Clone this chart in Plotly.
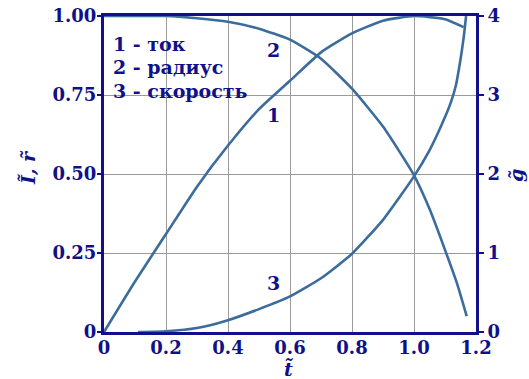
import plotly.graph_objects as go

# Безразмерное время и зависимости тока, радиуса и скорости
t_current = [0, 0.1, 0.2, 0.3, 0.4, 0.5, 0.6, 0.7, 0.8, 0.9, 1.0, 1.1, 1.16]
current = [0, 0.16, 0.31, 0.46, 0.59, 0.705, 0.795, 0.885, 0.945, 0.985, 1.0, 0.99, 0.965]

t_radius = [0, 0.2, 0.3, 0.4, 0.5, 0.6, 0.7, 0.8, 0.9, 1.0, 1.05, 1.1, 1.14, 1.17]
radius = [1.0, 1.0, 0.993, 0.982, 0.96, 0.925, 0.865, 0.77, 0.65, 0.496, 0.39, 0.26, 0.15, 0.05]

t_speed = [0.11, 0.2, 0.3, 0.4, 0.5, 0.6, 0.7, 0.8, 0.9, 1.0, 1.05, 1.075, 1.1, 1.12, 1.135, 1.15, 1.16, 1.168]
speed = [0, 0.01, 0.05, 0.15, 0.29, 0.45, 0.68, 0.99, 1.42, 1.97, 2.3, 2.5, 2.72, 2.92, 3.12, 3.45, 3.72, 4.0]

x_ticks = [0, 0.2, 0.4, 0.6, 0.8, 1.0, 1.2]
x_labels = ["0", "0.2", "0.4", "0.6", "0.8", "1.0", "1.2"]
y_ticks = [0, 0.25, 0.5, 0.75, 1.0]
y_labels = ["0", "0.25", "0.50", "0.75", "1.00"]
g_ticks = [0, 1, 2, 3, 4]
g_labels = ["0", "1", "2", "3", "4"]

legend_lines = ["1 - ток", "2 - радиус", "3 - скорость"]

NAVY = "#10108a"
CURVE = "#3b6c9c"
FONT = "DejaVu Serif"

W, H = 529, 379
ML, MR, MT, MB = 104, 53, 16, 47

fig = go.Figure()
line_style = dict(color=CURVE, width=2.6, shape="spline", smoothing=0.5)
fig.add_trace(go.Scatter(x=t_current, y=current, mode="lines", line=line_style, yaxis="y"))
fig.add_trace(go.Scatter(x=t_radius, y=radius, mode="lines", line=line_style, yaxis="y"))
fig.add_trace(go.Scatter(x=t_speed, y=speed, mode="lines", line=line_style, yaxis="y2"))

tick_font = dict(family=FONT, size=18, color=NAVY, weight="bold")

fig.update_layout(
    width=W, height=H,
    margin=dict(l=ML, r=MR, t=MT, b=MB),
    paper_bgcolor="white", plot_bgcolor="white",
    showlegend=False,
    xaxis=dict(range=[0, 1.2], tickvals=x_ticks, ticktext=x_labels,
               showgrid=True, gridcolor="#9a9a9a", gridwidth=1,
               showline=True, linecolor=NAVY, linewidth=3, mirror=True,
               ticks="", tickfont=tick_font, zeroline=False, automargin=False,
               ticklabelstandoff=-3),
    yaxis=dict(range=[0, 1.0], tickvals=y_ticks, ticktext=y_labels,
               showgrid=True, gridcolor="#9a9a9a", gridwidth=1,
               showline=True, linecolor=NAVY, linewidth=3,
               ticks="outside", ticklen=4, tickcolor=NAVY, tickwidth=1.5,
               tickfont=tick_font, zeroline=False, automargin=False,
               ticklabelstandoff=-3),
    yaxis2=dict(range=[0, 4], tickvals=g_ticks, ticktext=g_labels,
                overlaying="y", side="right", showgrid=False,
                showline=True, linecolor=NAVY, linewidth=3,
                ticks="outside", ticklen=5, tickcolor=NAVY, tickwidth=1.5,
                tickfont=tick_font, zeroline=False, automargin=False),
)

ann_font = dict(family=FONT, size=19, color=NAVY, weight="bold")

# Подписи кривых
for label, tx, ty in [("1", 0.546, 0.686), ("2", 0.546, 0.892), ("3", 0.546, 0.154)]:
    fig.add_annotation(x=tx, y=ty, xref="x", yref="y", text=label, showarrow=False,
                       font=ann_font, xanchor="center", yanchor="middle")

# Пояснения к кривым
for i, line in enumerate(legend_lines):
    fig.add_annotation(x=0.024, y=0.911 - i * 0.0735, xref="x", yref="y", text=line,
                       showarrow=False, font=ann_font, xanchor="left", yanchor="middle")


def px_to_paper(px, py):
    """Пиксели страницы -> доли области построения."""
    return (px - ML) / (W - ML - MR), (H - MB - py) / (H - MT - MB)


# Названия осей
title_font = dict(family=FONT, size=19, color=NAVY, weight="bold", style="italic")
for text, px, py, angle in [("Ĩ, r̃", 28, 168, -90), ("t̃", 288, 369, 0), ("g̃", 516, 176, -90)]:
    ax, ay = px_to_paper(px, py)
    fig.add_annotation(x=ax, y=ay, xref="paper", yref="paper", text=text,
                       showarrow=False, font=title_font, textangle=angle,
                       xanchor="center", yanchor="middle")

fig.write_html("out.html")
